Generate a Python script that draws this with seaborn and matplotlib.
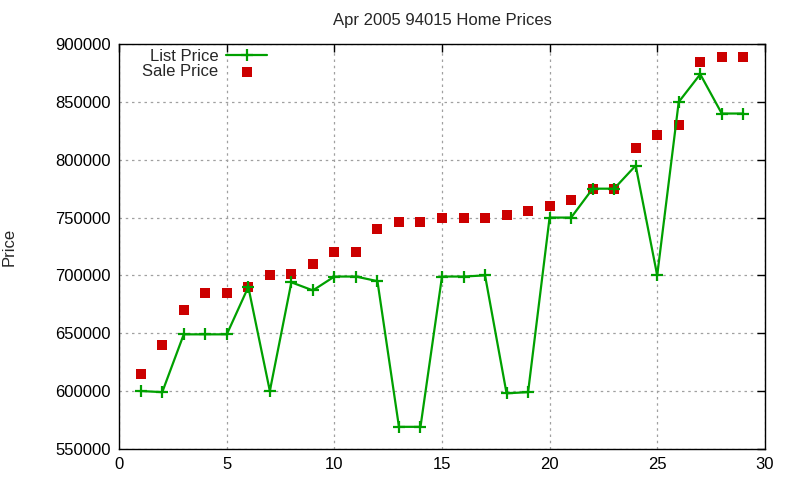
import matplotlib
matplotlib.use("Agg")
import matplotlib.pyplot as plt
import seaborn as sns
import pandas as pd

sns.set_theme(style="white")
plt.rcParams['font.family'] = ['Liberation Sans', 'DejaVu Sans']

x = list(range(1, 30))
list_price = [600000, 599000, 649000, 649000, 649000, 690000, 600000, 694000, 687000,
              699000, 699000, 695000, 569000, 569000, 699000, 699000, 700000, 598000,
              599000, 750000, 750000, 775000, 775000, 795000, 700000, 850000, 874000,
              840000, 840000]
sale_price = [615000, 640000, 670000, 685000, 685000, 690000, 700000, 701000, 710000,
              720000, 720000, 740000, 746000, 746000, 750000, 750000, 750000, 752000,
              756000, 760000, 765000, 775000, 775000, 810000, 821000, 830000, 885000,
              889000, 889000]
title = "Apr 2005 94015 Home Prices"
ylabel = "Price"

df = pd.DataFrame({"x": x, "List Price": list_price, "Sale Price": sale_price})

fig = plt.figure(figsize=(8, 4.8), dpi=100)
ax = fig.add_axes([0.149, 0.065, 0.807, 0.843])

sns.lineplot(data=df, x="x", y="List Price", ax=ax, color="#00a000", linewidth=1.6,
             marker="+", markersize=9, markeredgewidth=1.6, markeredgecolor="#00a000",
             label="List Price")
sns.scatterplot(data=df, x="x", y="Sale Price", ax=ax, color="#cc0000", marker="s",
                s=45, linewidth=0, label="Sale Price")

ax.set_xlim(0, 30)
ax.set_ylim(550000, 900000)
ax.set_xticks(range(0, 31, 5))
ax.set_yticks(range(550000, 900001, 50000))
ax.set_yticklabels([str(v) for v in range(550000, 900001, 50000)])
ax.grid(True, color="#a0a0a0", linestyle=(0, (2, 3)), linewidth=0.9)
ax.tick_params(direction="in", top=True, right=True, length=6, width=1,
               labelsize=12, colors="black", pad=6)
for s in ax.spines.values():
    s.set_color("black")
    s.set_linewidth(1)
ax.set_xlabel("")
ax.set_ylabel(ylabel, fontsize=12, labelpad=28)
ax.set_title(title, fontsize=12, pad=14)

ax.legend(loc="upper left", bbox_to_anchor=(0.02, 1.012), frameon=False, markerfirst=False,
          fontsize=12, handlelength=2.5, borderaxespad=0.2, labelspacing=0.0,
          handletextpad=0.45)

fig.savefig("out.png", dpi=100)
